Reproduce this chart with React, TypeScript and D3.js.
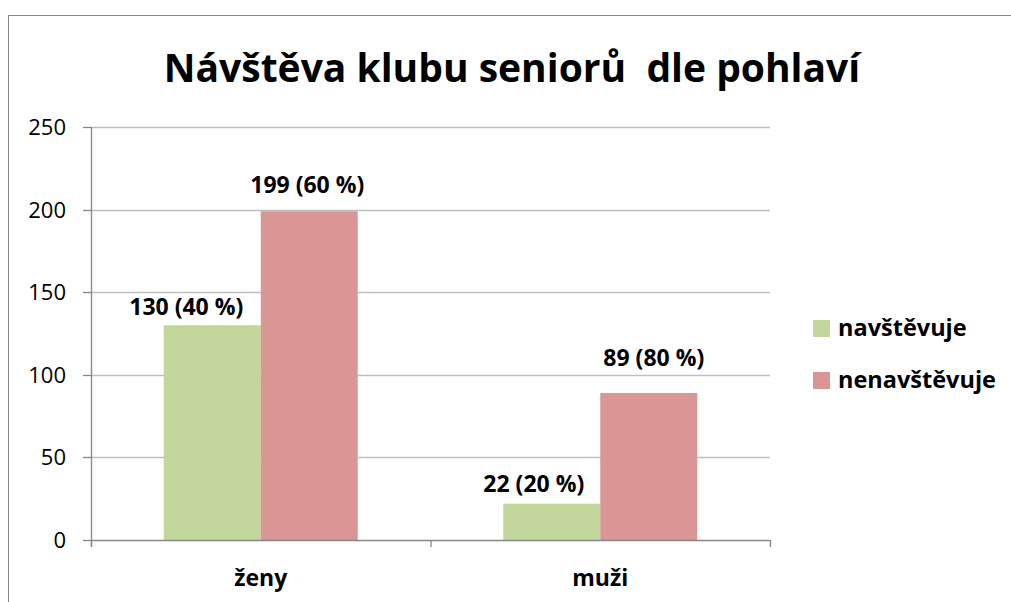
import React from "react";
import * as d3 from "d3";

const categories = ["ženy", "muži"];
const seriesNames = ["navštěvuje", "nenavštěvuje"];
const navstevuje = [130, 22];
const nenavstevuje = [199, 89];
const labelsNav = ["130 (40 %)", "22 (20 %)"];
const labelsNenav = ["199 (60 %)", "89 (80 %)"];
const yTicks = [0, 50, 100, 150, 200, 250];
const colors = ["#C3D69B", "#D99694"];
const title = "Návštěva klubu seniorů\u00A0 dle pohlaví";

const FONT = "'Open Sans', sans-serif";
// label layout offsets (px) relative to bar top / bar centre, per series, per category
const labelGap = [
  [10, 12],
  [18, 27],
];
const labelShift = [
  [-26, -18],
  [-2, 5],
];

export default function App() {
  const W = 1011, H = 602;
  const left = 91, right = 770, top = 127, bottom = 540;
  const y = d3.scaleLinear().domain([0, 250]).range([bottom, top]);
  const x0 = d3.scaleBand().domain(categories).range([left, right]).paddingInner(0).paddingOuter(0);
  const bw = x0.bandwidth();
  const barW = bw / 3.5;
  const x1 = d3.scaleBand().domain(seriesNames).range([0, 2 * barW]);
  const series = [navstevuje, nenavstevuje];
  const labels = [labelsNav, labelsNenav];
  const barX = (i: number, j: number) =>
    (x0(categories[i]) as number) + (bw - 2 * barW) / 2 + (x1(seriesNames[j]) as number);

  return (
    <svg width={W} height={H} style={{ position: "absolute", left: 0, top: 0 }}>
      <rect x={0} y={0} width={W} height={H} fill="#fff" />
      <rect x={8.5} y={15.5} width={W + 10} height={H + 10} fill="none" stroke="#888" strokeWidth={1} />
      <text x={512} y={82} textAnchor="middle" fontFamily={FONT} fontWeight="bold" fontSize={39} fill="#000">
        {title}
      </text>
      {yTicks.map((t) => (
        <g key={t}>
          {t > 0 && (
            <line x1={left} x2={right} y1={Math.round(y(t)) + 0.5} y2={Math.round(y(t)) + 0.5} stroke="#BFBFBF" strokeWidth={1.3} />
          )}
          <line x1={left - 8} x2={left} y1={Math.round(y(t)) + 0.5} y2={Math.round(y(t)) + 0.5} stroke="#868686" strokeWidth={1.3} />
          <text x={66} y={y(t) + 8} textAnchor="end" fontFamily={FONT} fontSize={22} fill="#000">
            {t}
          </text>
        </g>
      ))}
      {categories.map((c, i) =>
        series.map((s, j) => (
          <rect key={c + j} x={barX(i, j)} y={y(s[i])} width={barW} height={bottom - y(s[i])} fill={colors[j]} />
        ))
      )}
      {categories.map((c, i) =>
        series.map((s, j) => (
          <text key={"l" + c + j} x={barX(i, j) + barW / 2 + labelShift[j][i]} y={y(s[i]) - labelGap[j][i]} textAnchor="middle" fontFamily={FONT} fontWeight="bold" fontSize={23} fill="#000">
            {labels[j][i]}
          </text>
        ))
      )}
      <line x1={left + 0.5} x2={left + 0.5} y1={top} y2={bottom + 7} stroke="#868686" strokeWidth={1.3} />
      <line x1={left} x2={right} y1={bottom + 0.5} y2={bottom + 0.5} stroke="#868686" strokeWidth={1.3} />
      {[...categories.map((c) => x0(c) as number), right].map((xv, k) => (
        <line key={k} x1={xv + 0.5} x2={xv + 0.5} y1={bottom} y2={bottom + 7} stroke="#868686" strokeWidth={1.3} />
      ))}
      {categories.map((c) => (
        <text key={c} x={(x0(c) as number) + bw / 2} y={586} textAnchor="middle" fontFamily={FONT} fontWeight="bold" fontSize={23} fill="#000">
          {c}
        </text>
      ))}
      {seriesNames.map((n, j) => (
        <g key={n}>
          <rect x={813} y={320 + j * 52} width={17} height={17} fill={colors[j]} />
          <text x={838} y={336 + j * 52} fontFamily={FONT} fontWeight="bold" fontSize={23.5} fill="#000">
            {n}
          </text>
        </g>
      ))}
    </svg>
  );
}
